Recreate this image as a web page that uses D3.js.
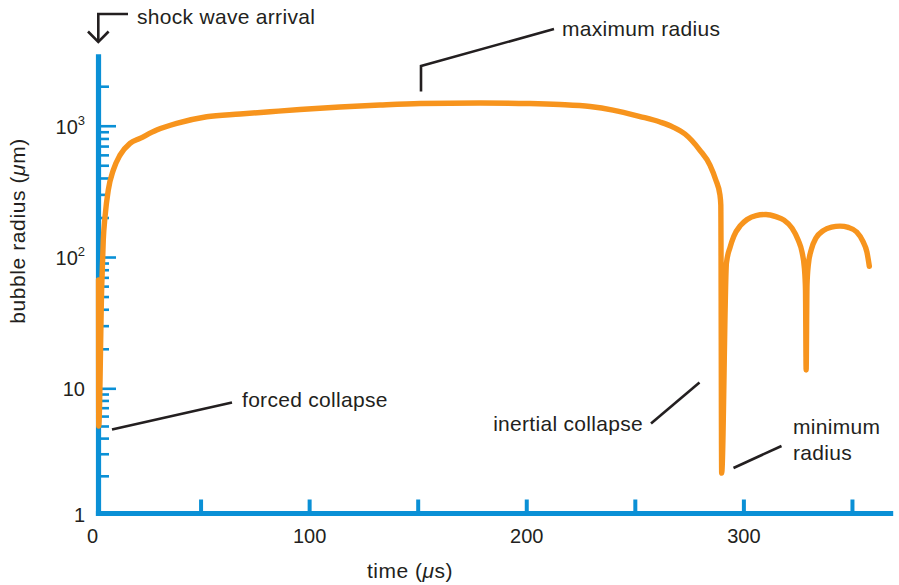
<!DOCTYPE html>
<html><head><meta charset="utf-8">
<script src="https://cdn.jsdelivr.net/npm/d3@7"></script>
<style>
body{margin:0;background:#fff}
svg text{font-family:"Liberation Sans",Arial,Helvetica,sans-serif;fill:#231f20}
</style></head><body>
<svg id="chart" width="899" height="585"></svg>
<script>
// ---- data (time in microseconds, bubble radius in micrometres) ----
const timeUs = [3.0, 3.1, 4.47, 5.2, 6.0, 7.5, 9.8, 12.9, 17.5, 22.1, 29.8, 39.0, 52.8, 68.2, 82.0, 95.8,
  114.2, 132.6, 151.1, 178.7, 201.7, 215.5, 229.4, 239.9, 252.4, 261.6, 267.6, 273.1, 279.9, 284.6,
  287.3, 289.2, 289.6, 290.0,
  292.2, 293.9, 295.6, 298.7, 301.7, 305.8, 310.4, 315.0, 318.7, 322.4, 325.2, 327.0, 328.1, 328.6,
  328.9,
  329.3, 329.9, 331.2, 333.5, 336.8, 340.6, 344.5, 348.3, 352.2, 355.0, 356.9, 358.0];
const radiusUm = [67, 5.0, 59, 135, 203, 324, 459, 597, 734, 801, 927, 1042, 1171, 1228, 1278, 1329,
  1388, 1438, 1476, 1489, 1476, 1451, 1401, 1317, 1175, 1067, 977, 865, 653, 502,
  386, 297, 249, 2.1,
  90, 119, 144, 174, 193, 207, 211, 203, 191, 166, 135, 109, 82, 56,
  13.8,
  61, 87, 113, 140, 159, 169, 172, 168, 155, 132, 109, 85];
const xTickValues = [50, 100, 150, 200, 250, 300, 350];
const xTickLabels = [0, 100, 200, 300];
const yMajorTicks = [1, 10, 100, 1000];
const yMajorExponents = [null, null, "2", "3"];
const yMinorTicks = [2,3,4,5,6,7,8,9, 20,30,40,50,60,70,80,90, 200,300,400,500,600,700,800,900, 2000];
const shockTime = 3;

// ---- scales ----
const svg = d3.select("#chart");
const blue = "#0a90d6", orange = "#f7941d", ink = "#231f20";
const x = d3.scaleLinear().domain([0, 370]).range([92, 92 + 370 * 2.1713]);
const y = d3.scaleLog().domain([1, 10, 3500]).range([513.5, 388.3, 54.3]);
const x0 = x(shockTime), yBase = y(1);

// ---- y axis ----
const gy = svg.append("g");
gy.append("g").attr("transform", `translate(${x0},0)`)
  .call(d3.axisRight(y).tickValues(yMinorTicks).tickSize(10.5).tickFormat(""))
  .call(g => { g.select(".domain").remove(); g.selectAll("line").attr("stroke", blue).attr("stroke-width", 2.6); });
gy.append("g").attr("transform", `translate(${x0},0)`)
  .call(d3.axisRight(y).tickValues(yMajorTicks.slice(1)).tickSize(17.5).tickFormat(""))
  .call(g => { g.select(".domain").remove(); g.selectAll("line").attr("stroke", blue).attr("stroke-width", 2.6); });
gy.append("line").attr("x1", x0).attr("x2", x0).attr("y1", yBase + 2.5).attr("y2", y(3500))
  .attr("stroke", blue).attr("stroke-width", 5.2);

const ylab = svg.append("g").selectAll("text").data(yMajorTicks).join("text")
  .attr("x", 85).attr("y", d => y(d) + 8).attr("text-anchor", "end").attr("font-size", 20);
ylab.each(function(d, i) {
  const t = d3.select(this);
  if (yMajorExponents[i]) {
    t.append("tspan").text("10");
    t.append("tspan").attr("font-size", 13).attr("dy", -9).text(yMajorExponents[i]);
  } else {
    t.text(d);
  }
});

// ---- x axis ----
svg.append("g").attr("transform", `translate(0,${yBase})`)
  .call(d3.axisTop(x).tickValues(xTickValues).tickSize(14).tickFormat(""))
  .call(g => { g.select(".domain").remove(); g.selectAll("line").attr("stroke", blue).attr("stroke-width", 4); });
svg.append("line").attr("x1", x0 - 2.6).attr("x2", x(369)).attr("y1", yBase).attr("y2", yBase)
  .attr("stroke", blue).attr("stroke-width", 5.2);
svg.append("g").attr("transform", `translate(0,${yBase})`)
  .call(d3.axisBottom(x).tickValues(xTickLabels).tickSize(0).tickPadding(15.5).tickFormat(d3.format("d")))
  .call(g => { g.select(".domain").remove(); g.selectAll("text").attr("font-size", 20).attr("fill", ink).attr("font-family", null); });

// axis titles
const xt = svg.append("text").attr("x", 410).attr("y", 578).attr("text-anchor", "middle")
  .attr("font-size", 21).attr("letter-spacing", 0.5);
xt.append("tspan").text("time (");
xt.append("tspan").attr("font-style", "italic").text("μ");
xt.append("tspan").text("s)");
const yt = svg.append("text").attr("transform", "translate(25,231) rotate(-90)").attr("text-anchor", "middle")
  .attr("font-size", 21).attr("letter-spacing", 0.6);
yt.append("tspan").text("bubble radius (");
yt.append("tspan").attr("font-style", "italic").text("μ");
yt.append("tspan").text("m)");

// ---- radius curve ----
const pts = timeUs.map((t, i) => ({ t, r: radiusUm[i] }));
svg.append("path").datum(pts)
  .attr("d", d3.line().x(d => x(d.t)).y(d => y(d.r)).curve(d3.curveMonotoneX))
  .attr("fill", "none").attr("stroke", orange).attr("stroke-width", 5.4)
  .attr("stroke-linecap", "round").attr("stroke-linejoin", "round");

// ---- annotations ----
const ann = svg.append("g").attr("fill", "none").attr("stroke", ink).attr("stroke-width", 2.6);
ann.append("path").attr("d", "M128,14H98.3V42");
ann.append("path").attr("d", "M88,31.5L98.3,42L108.6,31.5");
ann.append("path").attr("d", "M421,91.5V66L554,29");
ann.append("path").attr("d", "M112,429.5L232,402.5");
ann.append("path").attr("d", "M651,423.5L699.5,382.5");
ann.append("path").attr("d", "M733.5,468L781.5,446");

const notes = [
  { text: "shock wave arrival", x: 137, y: 24, anchor: "start" },
  { text: "maximum radius", x: 562, y: 36, anchor: "start" },
  { text: "forced collapse", x: 242, y: 407, anchor: "start" },
  { text: "inertial collapse", x: 643, y: 431, anchor: "end" },
  { text: "minimum", x: 793, y: 434, anchor: "start" },
  { text: "radius", x: 793, y: 460, anchor: "start" }
];
svg.append("g").selectAll("text").data(notes).join("text")
  .attr("x", d => d.x).attr("y", d => d.y).attr("text-anchor", d => d.anchor)
  .attr("font-size", 21).attr("letter-spacing", 0.3).text(d => d.text);
</script>
</body></html>
